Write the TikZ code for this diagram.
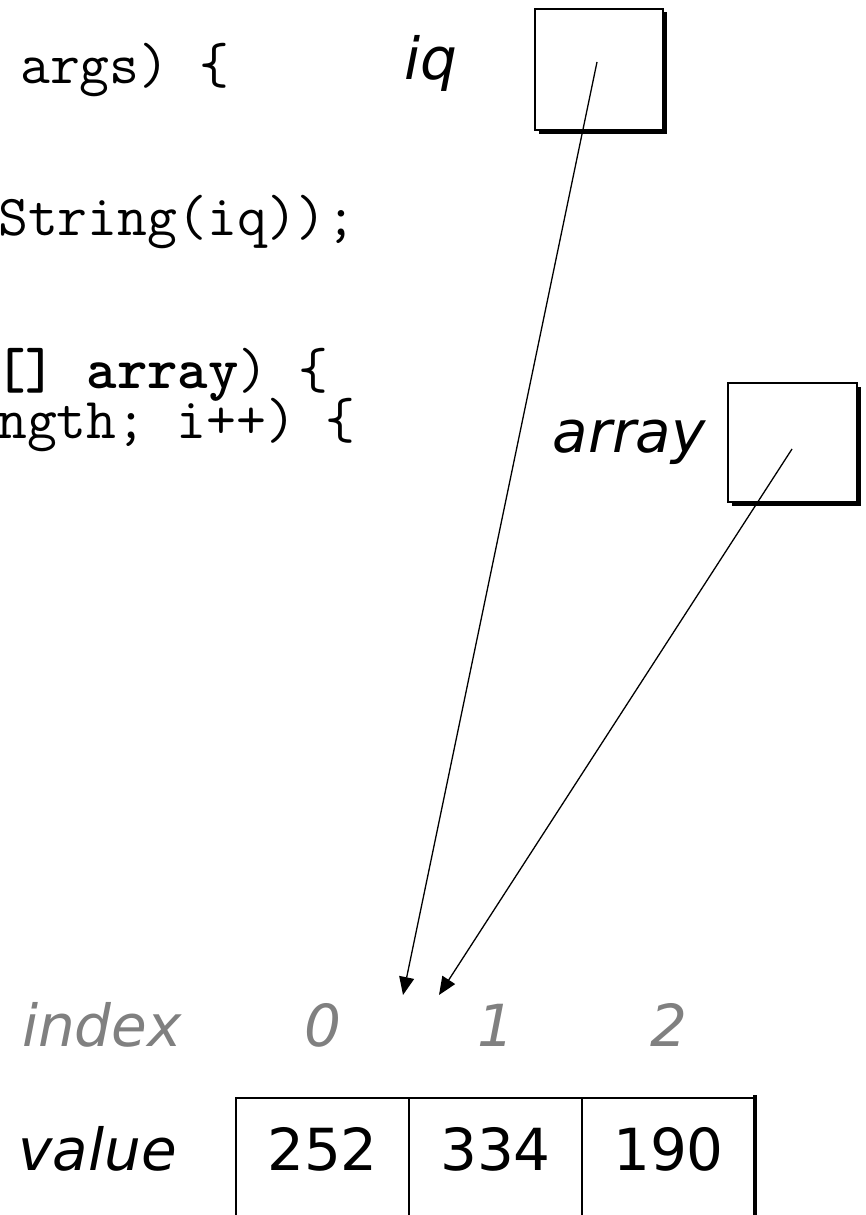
\documentclass[tikz,border=0pt]{standalone}
\usepackage{fontspec}
\setmainfont{DejaVu Sans}
\usetikzlibrary{positioning, arrows.meta, shadows}
\definecolor{idxgray}{RGB}{128,128,128}
\tikzset{
  lbl/.style={font=\fontsize{58}{60}\selectfont\itshape, inner sep=0pt},
  idxlbl/.style={lbl, text=idxgray},
  code/.style={font=\fontsize{58}{60}\selectfont\ttfamily, inner sep=0pt, anchor=base west},
  refbox/.style={draw, fill=white, line width=1.8pt, inner sep=0pt,
    drop shadow={shadow xshift=3.5pt, shadow yshift=-3.5pt, fill=black, opacity=1}},
  cell/.style={draw, line width=1.6pt, outer sep=0pt, inner sep=0pt,
    minimum width=\CellW pt, minimum height=140pt,
    text height=42pt, text depth=38pt, font=\fontsize{58}{60}\selectfont},
  arr/.style={-{Triangle[length=18pt, width=15pt]}, line width=1.3pt},
}
\def\CellW{173}
\def\IdxRow{1046}
\def\ValRow{1170}

\begin{document}
\begin{tikzpicture}[x=1pt, y=-1pt]
  \useasboundingbox (0,0) rectangle (865,1215);

  % ----- code fragments (left, cut off) -----
  \node[code] (sig)   at (20,83)  {args) \{};
  \node[code] (prt)   at (-2,235) {String(iq));};
  \node[code] (mdecl) at (-5,388) {\textbf{[] array}) \{};
  \node[code] (loop)  at (-3,438) {ngth; i++) \{};

  % ----- reference variables -----
  \node[refbox, minimum width=128pt, minimum height=121pt] (iqbox) at (599,69.5) {};
  \node[lbl, anchor=base east] (iqname) at (458,80) {iq};
  \node[refbox, minimum width=129pt, minimum height=119pt] (arrbox) at (792.5,442.5) {};
  \node[lbl, anchor=base east] (arrname) at (706,452) {array};

  % ----- array cells -----
  \node[cell] (c0) at (322.5,1168) {252};
  \node[cell, right=0pt of c0] (c1) {334};
  \node[cell, right=0pt of c1] (c2) {190};
  \draw[line width=4.5pt] ([yshift=3pt]c2.north east) -- (c2.south east);

  % ----- index / value labels -----
  \coordinate (idxrow) at (0,\IdxRow);
  \node[idxlbl, anchor=base east] (idxname) at (182,\IdxRow) {index};
  \foreach \i in {0,1,2}
    \node[idxlbl, anchor=base] (i\i) at (c\i |- idxrow) {\i};
  \node[lbl, anchor=base east] (valname) at (177,\ValRow) {value};

  % ----- pointers -----
  \coordinate (iqptr)  at (597,62);
  \coordinate (iqtip)  at (403,995);
  \coordinate (arrptr) at (792,449);
  \coordinate (arrtip) at (439,995);
  \draw[arr] (iqptr) -- (iqtip);
  \draw[arr] (arrptr) -- (arrtip);
\end{tikzpicture}
\end{document}
